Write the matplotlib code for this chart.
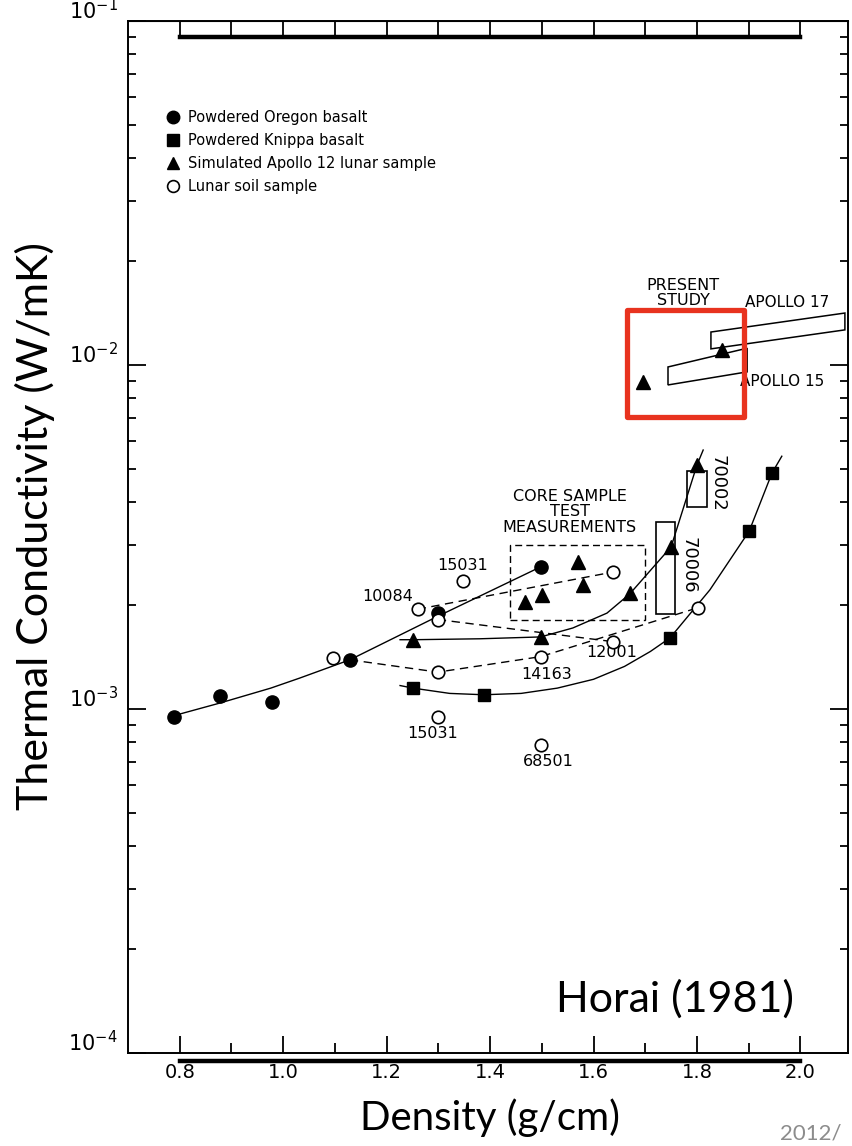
import numpy as np
import matplotlib
matplotlib.use("Agg")
import matplotlib.pyplot as plt
from matplotlib.patches import Rectangle, Polygon
from matplotlib.lines import Line2D
import matplotlib.transforms as mtransforms

# DATA  (density, thermal conductivity W/mK)
oregon_x = [0.788, 0.877, 0.978, 1.129, 1.299, 1.498]
oregon_k = [9.5e-4, 1.09e-3, 1.05e-3, 1.39e-3, 1.90e-3, 2.59e-3]
oregon_fit_x = [0.786, 0.877, 0.976, 1.032, 1.129, 1.299, 1.498]
oregon_fit_k = [9.54e-4, 1.04e-3, 1.15e-3, 1.23e-3, 1.39e-3, 1.86e-3, 2.59e-3]

knippa_x = [1.251, 1.388, 1.748, 1.901, 1.945]
knippa_k = [1.15e-3, 1.10e-3, 1.61e-3, 3.29e-3, 4.85e-3]
knippa_fit_x = [1.226, 1.251, 1.322, 1.388, 1.460, 1.530, 1.600, 1.660, 1.710, 1.748, 1.825, 1.901, 1.945, 1.964]
knippa_fit_k = [1.17e-3, 1.15e-3, 1.11e-3, 1.10e-3, 1.11e-3, 1.15e-3, 1.22e-3, 1.33e-3, 1.47e-3, 1.61e-3, 2.22e-3, 3.29e-3, 4.85e-3, 5.43e-3]

sim_x = [1.251, 1.498, 1.670, 1.750, 1.800, 1.467, 1.500, 1.570, 1.580, 1.696, 1.848]
sim_k = [1.59e-3, 1.62e-3, 2.17e-3, 2.96e-3, 5.12e-3, 2.05e-3, 2.14e-3, 2.67e-3, 2.29e-3, 8.93e-3, 1.107e-2]
sim_fit_x = [1.226, 1.251, 1.380, 1.498, 1.560, 1.626, 1.670, 1.750, 1.800, 1.812]
sim_fit_k = [1.59e-3, 1.59e-3, 1.60e-3, 1.62e-3, 1.72e-3, 1.90e-3, 2.16e-3, 2.96e-3, 5.12e-3, 5.66e-3]

soil_x = [1.096, 1.260, 1.299, 1.299, 1.347, 1.498, 1.637, 1.637, 1.802, 1.299, 1.498]
soil_k = [1.41e-3, 1.95e-3, 1.82e-3, 1.28e-3, 2.35e-3, 1.42e-3, 2.50e-3, 1.57e-3, 1.97e-3, 9.5e-4, 7.85e-4]

# dashed links between lunar soil measurements
s10084_x = [1.260, 1.637]
s10084_k = [1.95e-3, 2.50e-3]
s12001_x = [1.299, 1.637]
s12001_k = [1.82e-3, 1.57e-3]
s14163_x = [1.129, 1.299, 1.498, 1.802]
s14163_k = [1.39e-3, 1.28e-3, 1.42e-3, 1.97e-3]

# sample labels
sample_names = ["15031", "10084", "12001", "14163", "15031", "68501"]
sample_x = [1.347, 1.202, 1.636, 1.510, 1.289, 1.512]
sample_k = [2.62e-3, 2.12e-3, 1.46e-3, 1.26e-3, 8.51e-4, 7.02e-4]

# boxes: (x0, x1, k0, k1)
core_box = (1.438, 1.699, 1.82e-3, 3.0e-3)
box_70006 = (1.721, 1.757, 1.89e-3, 3.5e-3)
box_70002 = (1.781, 1.819, 3.86e-3, 4.92e-3)
present_box = (1.665, 1.891, 7.06e-3, 1.445e-2)
apollo17_x = [1.827, 2.086, 2.086, 1.827]
apollo17_k = [1.247e-2, 1.416e-2, 1.265e-2, 1.114e-2]
apollo15_x = [1.744, 1.897, 1.897, 1.744]
apollo15_k = [9.87e-3, 1.119e-2, 9.55e-3, 8.75e-3]

x_ticks = [0.8, 1.0, 1.2, 1.4, 1.6, 1.8, 2.0]
x_ticklabels = ["0.8", "1.0", "1.2", "1.4", "1.6", "1.8", "2.0"]
y_ticks = [1e-1, 1e-2, 1e-3, 1e-4]
y_ticklabels = [r"$10^{-1}$", r"$10^{-2}$", r"$10^{-3}$", r"$10^{-4}$"]

fig = plt.figure(figsize=(8.52, 11.46), dpi=100)
ax = fig.add_axes([128 / 852, 93 / 1146, 720 / 852, 1032 / 1146])
ax.set_yscale("log")
ax.set_xlim(0.70, 2.092)
ax.set_ylim(1e-4, 1e-1)

lw = 1.0
dash = (0, (6, 4))

# fitted curves
ax.plot(oregon_fit_x, oregon_fit_k, color="k", lw=lw)
ax.plot(knippa_fit_x, knippa_fit_k, color="k", lw=lw)
ax.plot(sim_fit_x, sim_fit_k, color="k", lw=lw)
for xs, ks in [(s10084_x, s10084_k), (s12001_x, s12001_k), (s14163_x, s14163_k)]:
    ax.plot(xs, ks, color="k", lw=lw, linestyle=dash)

# boxes
def box(b, **kw):
    ax.add_patch(Rectangle((b[0], b[2]), b[1] - b[0], b[3] - b[2], fill=False, **kw))

box(core_box, edgecolor="k", lw=lw, linestyle=(0, (5, 3)))
box(box_70006, edgecolor="k", lw=1.2)
box(box_70002, edgecolor="k", lw=1.2)
ax.add_patch(Polygon(list(zip(apollo17_x, apollo17_k)), closed=True, fill=False, edgecolor="k", lw=1.1))
ax.add_patch(Polygon(list(zip(apollo15_x, apollo15_k)), closed=True, fill=False, edgecolor="k", lw=1.1))

# markers
ax.plot(oregon_x, oregon_k, "o", color="k", ms=9.5, ls="none", zorder=4)
ax.plot(knippa_x, knippa_k, "s", color="k", ms=8, ls="none", zorder=4)
ax.plot(sim_x, sim_k, "^", color="k", ms=9.5, ls="none", zorder=4)
ax.plot(soil_x, soil_k, "o", mfc="white", mec="k", mew=1.2, ms=9, ls="none", zorder=4)

# red highlight box
ax.add_patch(Rectangle((present_box[0], present_box[2]), present_box[1] - present_box[0],
                       present_box[3] - present_box[2], fill=False, edgecolor="#e8331f",
                       lw=3.8, joinstyle="round", zorder=6))

scan_font = "DejaVu Sans"
for name, x, k in zip(sample_names, sample_x, sample_k):
    ax.text(x, k, name, ha="center", va="center", fontsize=11.5, family=scan_font)

ax.text(1.554, 3.74e-3, "CORE SAMPLE\nTEST\nMEASUREMENTS", ha="center", va="center",
        fontsize=11.5, linespacing=1.05, family=scan_font)
ax.text(1.773, 1.62e-2, "PRESENT\nSTUDY", ha="center", va="center", fontsize=11.5,
        linespacing=1.05, family=scan_font)
ax.text(1.893, 1.52e-2, "APOLLO 17", ha="left", va="center", fontsize=11, family=scan_font)
ax.text(1.883, 8.93e-3, "APOLLO 15", ha="left", va="center", fontsize=11, family=scan_font)
ax.text(1.783, 2.62e-3, "70006", ha="center", va="center", rotation=270, fontsize=13, family=scan_font)
ax.text(1.839, 4.54e-3, "70002", ha="center", va="center", rotation=270, fontsize=13, family=scan_font)

# legend
handles = [
    Line2D([], [], marker="o", color="k", ls="none", ms=9),
    Line2D([], [], marker="s", color="k", ls="none", ms=8),
    Line2D([], [], marker="^", color="k", ls="none", ms=9),
    Line2D([], [], marker="o", mfc="white", mec="k", mew=1.2, ls="none", ms=8.5),
]
labels = ["Powdered Oregon basalt", "Powdered Knippa basalt",
          "Simulated Apollo 12 lunar sample", "Lunar soil sample"]
ax.legend(handles, labels, loc="upper left", bbox_to_anchor=(0.053, 0.914), frameon=False,
          borderaxespad=0, borderpad=0, handlelength=1.0, handletextpad=0.5,
          labelspacing=0.55, prop={"family": scan_font, "size": 10.5})

# axes styling
for s in ax.spines.values():
    s.set_linewidth(1.4)
ax.set_xticks(x_ticks)
ax.set_xticklabels(x_ticklabels, fontsize=14, family=scan_font)
ax.set_xticks(np.arange(0.9, 2.0, 0.2), minor=True)
ax.tick_params(axis="x", which="major", direction="in", length=12, width=1.3, pad=7, top=False)
ax.tick_params(axis="x", which="minor", direction="in", length=7, width=1.3, top=False)
ax.tick_params(axis="y", which="major", direction="in", length=13, width=1.3, right=True,
               labelleft=False)
ax.tick_params(axis="y", which="minor", direction="in", length=6, width=1.3, right=True)

top = ax.secondary_xaxis("top")
top.set_xticks(np.arange(0.8, 2.05, 0.1))
top.tick_params(direction="in", length=11.5, width=1.3, labeltop=False)

# thick scale bars along top and bottom
bar = mtransforms.blended_transform_factory(ax.transData, ax.transAxes)
ax.plot([0.8, 2.0], [1 - 16 / 1032, 1 - 16 / 1032], color="k", lw=3.2, transform=bar, clip_on=False)
ax.plot([0.8, 2.0], [-8 / 1032, -8 / 1032], color="k", lw=3.2, transform=bar, clip_on=False)

ylab = mtransforms.blended_transform_factory(ax.transAxes, ax.transData)
ylab = ylab + mtransforms.ScaledTranslation(0, 10 / 100, fig.dpi_scale_trans)
for k, lab in zip(y_ticks, y_ticklabels):
    ax.text(-0.014, k, lab, transform=ylab, ha="right", va="center", fontsize=15)

label_font = ["Lato", "DejaVu Sans"]
ax.text(0.76, 0.052, "Horai (1981)", transform=ax.transAxes, ha="center", va="center",
        fontsize=31, family=label_font)
fig.text(0.041, 0.541, "Thermal Conductivity (W/mK)", rotation=90, ha="center", va="center",
         fontsize=31, family=label_font)
fig.text(0.575, 0.0244, "Density (g/cm)", ha="center", va="center", fontsize=29, family=label_font)
fig.text(0.9155, 0.0113, "2012/", ha="left", va="center", fontsize=16, color="#8c8c8c",
         family=label_font)

fig.savefig("out.png", dpi=100)
